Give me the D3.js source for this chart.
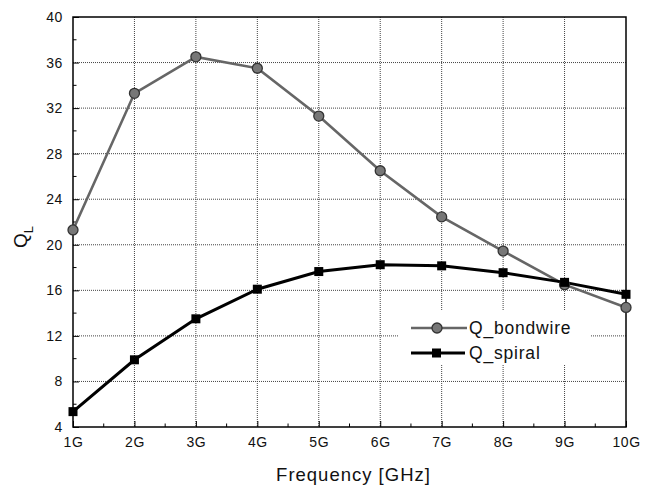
<!DOCTYPE html>
<html><head><meta charset="utf-8">
<script src="https://cdn.jsdelivr.net/npm/d3@7"></script>
<style>body{margin:0;background:#fff}svg{display:block;font-family:"Liberation Sans",Arial,sans-serif}</style>
</head><body><svg id="c" width="665" height="486"></svg>
<script>
const freqs = [1,2,3,4,5,6,7,8,9,10];
const freqLabels = ["1G","2G","3G","4G","5G","6G","7G","8G","9G","10G"];
const qBondwire = [21.3,33.3,36.5,35.5,31.3,26.5,22.45,19.45,16.5,14.5];
const qSpiral = [5.35,9.9,13.5,16.1,17.65,18.25,18.15,17.55,16.7,15.65];
const yTicks = [4,8,12,16,20,24,28,32,36,40];

const svg = d3.select("#c");
const L=73, R=626, T=17, B=427;
const x = d3.scaleLinear().domain([1,10]).range([L,R]);
const y = d3.scaleLinear().domain([4,40]).range([B,T]);

// grid
const g = svg.append("g");
g.selectAll(".vg").data(freqs.slice(1,-1)).enter().append("line")
 .attr("x1",d=>x(d)).attr("x2",d=>x(d)).attr("y1",T).attr("y2",B)
 .attr("stroke","#444").attr("stroke-width",1).attr("stroke-dasharray","1,1");
g.selectAll(".hg").data(yTicks.slice(1,-1)).enter().append("line")
 .attr("x1",L).attr("x2",R).attr("y1",d=>y(d)).attr("y2",d=>y(d))
 .attr("stroke","#444").attr("stroke-width",1).attr("stroke-dasharray","1,1");

// legend background
svg.append("rect").attr("x",398).attr("y",310).attr("width",192).attr("height",55).attr("fill","#fff");

// axes
const xAxis = d3.axisBottom(x).tickValues(freqs).tickFormat((d,i)=>freqLabels[i]).tickSizeInner(-6).tickSizeOuter(0).tickPadding(10);
const gx = svg.append("g").attr("transform",`translate(0,${B})`).call(xAxis);
const yAxis = d3.axisLeft(y).tickValues(yTicks).tickSizeInner(-6).tickSizeOuter(0).tickPadding(10);
const gy = svg.append("g").attr("transform",`translate(${L},0)`).call(yAxis);
[gx,gy].forEach(a=>{a.select(".domain").remove();a.selectAll("text").attr("font-size",14).attr("letter-spacing","0.6px").attr("fill","#111").attr("font-family","Liberation Sans, Arial, sans-serif");a.selectAll("line").attr("stroke","#000");});
// minor ticks
const xMinor = freqs.slice(0,-1).map(d=>d+0.5);
svg.selectAll(".xm").data(xMinor).enter().append("line")
 .attr("x1",d=>x(d)).attr("x2",d=>x(d)).attr("y1",B).attr("y2",B-3.5).attr("stroke","#000");
const yMinor = yTicks.slice(0,-1).map(d=>d+2);
svg.selectAll(".ym").data(yMinor).enter().append("line")
 .attr("x1",L).attr("x2",L+3.5).attr("y1",d=>y(d)).attr("y2",d=>y(d)).attr("stroke","#000");
// frame
svg.append("rect").attr("x",L).attr("y",T).attr("width",R-L).attr("height",B-T)
 .attr("fill","none").attr("stroke","#000").attr("stroke-width",1.5);

// lines
const line = d3.line().x((d,i)=>x(freqs[i])).y(d=>y(d));
svg.append("path").datum(qBondwire).attr("d",line).attr("fill","none").attr("stroke","#666").attr("stroke-width",2.6);
svg.append("path").datum(qSpiral).attr("d",line).attr("fill","none").attr("stroke","#000").attr("stroke-width",3);

function circ(sel){
  sel.append("circle").attr("r",5).attr("fill","#777").attr("stroke","#333").attr("stroke-width",1.3);
}
svg.selectAll(".bm").data(qBondwire).enter().append("g")
 .attr("transform",(d,i)=>`translate(${x(freqs[i])},${y(d)})`).call(circ);
svg.selectAll(".sm").data(qSpiral).enter().append("rect")
 .attr("x",(d,i)=>x(freqs[i])-4.5).attr("y",d=>y(d)-4.5).attr("width",9).attr("height",9).attr("fill","#000");

// legend
const lg = svg.append("g");
lg.append("line").attr("x1",411).attr("x2",467).attr("y1",328).attr("y2",328).attr("stroke","#666").attr("stroke-width",2.6);
lg.append("g").attr("transform","translate(437,328)").call(circ);
lg.append("text").attr("x",469).attr("y",334).attr("font-size",17.5).attr("letter-spacing","0.8px").attr("fill","#111").text("Q_bondwire");
lg.append("line").attr("x1",411).attr("x2",465).attr("y1",353).attr("y2",353).attr("stroke","#000").attr("stroke-width",3);
lg.append("rect").attr("x",432).attr("y",348.5).attr("width",9).attr("height",9).attr("fill","#000");
lg.append("text").attr("x",469).attr("y",359).attr("font-size",17.5).attr("letter-spacing","0.8px").attr("fill","#111").text("Q_spiral");

// axis titles
svg.append("text").attr("x",(L+R)/2+4).attr("y",481).attr("text-anchor","middle").attr("font-size",18.5).attr("letter-spacing","1px").attr("fill","#111").text("Frequency [GHz]");
const yl = svg.append("text").attr("transform","translate(27,237) rotate(-90)").attr("text-anchor","middle").attr("font-size",19).attr("fill","#111");
yl.append("tspan").text("Q");
yl.append("tspan").attr("font-size",13).attr("dy",6).text("L");
</script></body></html>
